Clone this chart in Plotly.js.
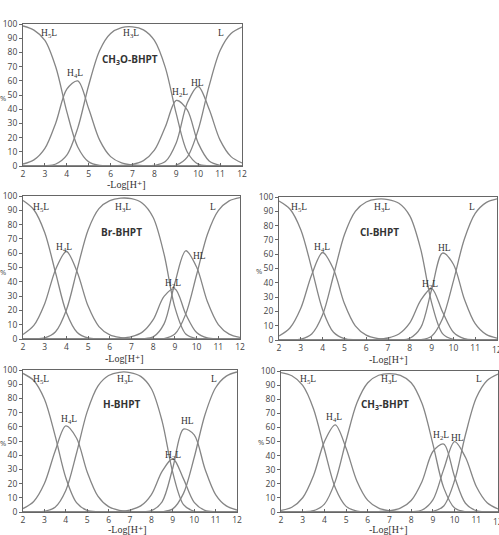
<!DOCTYPE html>
<html>
<head>
<meta charset="utf-8">
<script src="https://cdn.plot.ly/plotly-3.0.1.min.js"></script>
<style>html,body{margin:0;padding:0;background:#fff;}#chart{width:499px;height:535px;}</style>
</head>
<body>
<div id="chart"></div>
<script>
// shared -Log[H+] grid
const pH = [2,2.5,3,3.5,4,4.5,5,5.5,6,6.5,7,7.5,8,8.5,9,9.5,10,10.5,11,11.5,12];
const speciesLabels = ['H<sub>5</sub>L','H<sub>4</sub>L','H<sub>3</sub>L','H<sub>2</sub>L','HL','L'];
const panelNames = ['CH<sub>3</sub>O-BHPT','Br-BHPT','Cl-BHPT','H-BHPT','CH<sub>3</sub>-BHPT'];
const xTitle = '-Log[H\u207A]';
const yTitle = '%';

// CH3O-BHPT
const ch3o_H5L = [98.6,95.7,88.5,69.5,38.3,13.4,2.9,0.4,0.1,0,0,0,0,0,0,0,0,0,0,0,0];
const ch3o_H4L = [1.4,4.3,12.4,30.5,54.1,59.9,40.3,18.2,6.6,2.2,0.7,0.2,0.1,0,0,0,0,0,0,0,0];
const ch3o_H3L = [0,0,0.2,1.4,7.6,26.7,56.9,81.4,93.3,97.4,98.0,95.9,88.4,69.3,36.7,9.9,1.3,0.1,0,0,0];
const ch3o_H2L = [0,0,0,0,0,0,0,0,0.1,0.4,1.2,3.8,11.1,27.6,46.2,39.5,16.1,3.6,0.5,0.1,0];
const ch3o_HL  = [0,0,0,0,0,0,0,0,0,0,0,0,0.4,3.1,16.4,44.3,56.0,39.9,18.2,6.6,2.2];
const ch3o_L   = [0,0,0,0,0,0,0,0,0,0,0,0,0,0,0.7,6.3,25.5,56.4,81.3,93.3,97.8];

// Br-BHPT
const br_H5L = [96.8,90.4,74.5,46.4,18.5,4.5,0.7,0.1,0,0,0,0,0,0,0,0,0,0,0,0,0];
const br_H4L = [3.2,9.5,24.7,48.5,61.2,46.7,23.0,8.7,2.9,1.0,0.3,0.1,0,0,0,0,0,0,0,0,0];
const br_H3L = [0,0.1,0.8,5.1,20.3,48.9,76.3,91.2,96.8,98.5,98.1,95.0,85.0,59.4,22.1,3.5,0.3,0,0,0,0];
const br_H2L = [0,0,0,0,0,0,0,0,0.2,0.5,1.6,4.8,13.5,29.8,35.1,17.4,4.5,0.7,0.1,0,0];
const br_HL  = [0,0,0,0,0,0,0,0,0,0,0,0.2,1.5,10.6,39.3,61.7,50.3,26.0,10.1,3.4,1.1];
const br_L   = [0,0,0,0,0,0,0,0,0,0,0,0,0,0.3,3.5,17.4,44.9,73.3,89.8,96.6,98.9];

// Cl-BHPT
const cl_H5L = [97.2,91.6,77.1,50.1,21.2,5.4,0.9,0.1,0,0,0,0,0,0,0,0,0,0,0,0,0];
const cl_H4L = [2.8,8.4,22.2,45.7,61.2,49.5,25.5,9.9,3.4,1.1,0.4,0.1,0,0,0,0,0,0,0,0,0];
const cl_H3L = [0,0.1,0.6,4.2,17.6,45.1,73.6,90.0,96.5,98.5,98.2,95.6,86.8,63.5,26.1,4.5,0.4,0,0,0,0];
const cl_H2L = [0,0,0,0,0,0,0,0,0.1,0.4,1.4,4.2,12.0,27.7,36.0,19.7,5.4,0.9,0.1,0,0];
const cl_HL  = [0,0,0,0,0,0,0,0,0,0,0,0.1,1.2,8.6,35.2,60.8,53.0,28.7,11.4,3.9,1.3];
const cl_L   = [0,0,0,0,0,0,0,0,0,0,0,0,0,0.2,2.7,14.9,41.2,70.4,88.5,96.1,98.7];

// H-BHPT
const h_H5L = [97.6,92.6,79.5,53.8,24.1,6.6,1.1,0.1,0,0,0,0,0,0,0,0,0,0,0,0,0];
const h_H4L = [2.4,7.4,20.0,42.8,60.6,52.1,28.2,11.2,3.8,1.2,0.4,0.1,0,0,0,0,0,0,0,0,0];
const h_H3L = [0,0.1,0.5,3.4,15.2,41.4,70.7,88.7,96.1,98.4,98.2,95.5,86.8,64.0,27.7,5.2,0.5,0,0,0,0];
const h_H2L = [0,0,0,0,0,0,0,0,0.1,0.4,1.4,4.3,12.3,28.6,37.5,23.3,6.8,1.2,0.2,0,0];
const h_HL  = [0,0,0,0,0,0,0,0,0,0,0,0.1,1.0,7.2,31.0,58.4,54.3,30.5,12.3,4.3,1.4];
const h_L   = [0,0,0,0,0,0,0,0,0,0,0,0,0,0.2,2.2,13.1,38.4,68.3,87.5,95.7,98.6];

// CH3-BHPT
const ch3_H5L = [98.9,96.6,89.8,73.1,44.5,17.2,4.0,0.6,0.1,0,0,0,0,0,0,0,0,0,0,0,0];
const ch3_H4L = [1.1,3.4,10.1,25.9,49.9,61.8,45.2,21.8,8.2,2.7,0.9,0.3,0.1,0,0,0,0,0,0,0,0];
const ch3_H3L = [0,0,0.1,0.9,5.6,21.7,50.7,77.5,91.7,97.0,98.2,96.9,91.7,76.9,48.2,17.1,2.8,0.2,0,0,0];
const ch3_H2L = [0,0,0,0,0,0,0,0,0,0.3,0.9,2.7,8.2,21.7,42.9,48.2,25.0,6.2,0.9,0.1,0];
const ch3_HL  = [0,0,0,0,0,0,0,0,0,0,0,0,0.2,1.4,8.6,30.4,49.9,38.8,18.1,6.6,2.2];
const ch3_L   = [0,0,0,0,0,0,0,0,0,0,0,0,0,0,0.4,4.3,22.3,54.8,81.0,93.3,97.8];

const panelSeries = [
  [ch3o_H5L,ch3o_H4L,ch3o_H3L,ch3o_H2L,ch3o_HL,ch3o_L],
  [br_H5L,br_H4L,br_H3L,br_H2L,br_HL,br_L],
  [cl_H5L,cl_H4L,cl_H3L,cl_H2L,cl_HL,cl_L],
  [h_H5L,h_H4L,h_H3L,h_H2L,h_HL,h_L],
  [ch3_H5L,ch3_H4L,ch3_H3L,ch3_H2L,ch3_HL,ch3_L]
];

// layout (pixel boxes of each plot area, label positions, title positions)
const W = 499, H = 535;
const boxes = [
  {l:23, r:242, t:24, b:166},
  {l:23, r:240, t:196, b:339},
  {l:279, r:497, t:197, b:340},
  {l:23, r:237, t:370, b:512},
  {l:281, r:498, t:371, b:512}
];
const xTitlePx = [[127,184],[124,358],[388,359],[128,529],[388,529]];
const yTitlePx = [[3,98],[3,272],[259,271],[3,443],[261,442]];
const labelPos = [
  [[3.2,93.4],[4.37,65],[6.93,93.4],[9.17,51.6],[9.96,58.7],[11.04,93.4],[6.9,75]],
  [[2.83,92],[3.9,64],[6.63,92],[8.93,39],[10.13,58],[10.77,92],[6.55,75]],
  [[2.92,93],[3.99,64.5],[6.71,93],[8.93,39],[9.6,64],[10.85,93],[6.63,75.7]],
  [[2.84,93.4],[4.13,64.9],[6.77,93.4],[9.02,39.6],[9.67,64.2],[10.91,93.4],[6.61,76]],
  [[3.23,94],[4.42,67],[6.99,94],[9.37,54.6],[10.13,52.2],[11.13,94],[6.79,75.9]]
];

const traces = [];
const layout = {
  width:W, height:H,
  margin:{l:0,r:0,t:0,b:0},
  paper_bgcolor:'#fff', plot_bgcolor:'#fff',
  showlegend:false,
  font:{family:'Open Sans, DejaVu Sans, sans-serif', size:9, color:'#444'},
  annotations:[]
};

function paperNote(px, py, text, font) {
  return {xref:'paper', yref:'paper', x:px/W, y:1-py/H, text:text, showarrow:false,
          xanchor:'center', yanchor:'middle', font:font};
}

panelSeries.forEach((series, p) => {
  const n = p === 0 ? '' : String(p+1);
  const bx = boxes[p];
  series.forEach((ys) => {
    traces.push({
      x: pH, y: ys, type:'scatter', mode:'lines',
      xaxis:'x'+n, yaxis:'y'+n,
      line:{color:'#858585', width:1.3, shape:'spline', smoothing:0.9},
      hoverinfo:'skip'
    });
  });
  const axBase = {
    showline:true, mirror:true, linecolor:'#666', linewidth:1,
    ticklen:3, tickcolor:'#666', showgrid:false, zeroline:false,
    tickfont:{family:'Open Sans, DejaVu Sans, sans-serif', size:8.5, color:'#444'}
  };
  layout['xaxis'+n] = Object.assign({}, axBase, {
    domain:[bx.l/W, bx.r/W], range:[2,12], dtick:1, anchor:'y'+n, ticks:'inside'
  });
  layout['yaxis'+n] = Object.assign({}, axBase, {
    domain:[1-bx.b/H, 1-bx.t/H], range:[0,100], dtick:10, anchor:'x'+n, ticks:'outside'
  });
  const lp = labelPos[p];
  speciesLabels.forEach((t, i) => {
    layout.annotations.push({
      xref:'x'+n, yref:'y'+n, x:lp[i][0], y:lp[i][1], text:t, showarrow:false,
      xanchor:'center', yanchor:'middle',
      font:{family:'Liberation Serif, serif', size:9.5, color:'#333'}
    });
  });
  layout.annotations.push({
    xref:'x'+n, yref:'y'+n, x:lp[6][0], y:lp[6][1], text:'<b>'+panelNames[p]+'</b>', showarrow:false,
    xanchor:'center', yanchor:'middle',
    font:{family:'Open Sans, DejaVu Sans, sans-serif', size:10, color:'#333'}
  });
  layout.annotations.push(paperNote(xTitlePx[p][0], xTitlePx[p][1], xTitle,
    {family:'Liberation Serif, DejaVu Serif, serif', size:10, color:'#333'}));
  layout.annotations.push(paperNote(yTitlePx[p][0], yTitlePx[p][1], yTitle,
    {family:'Open Sans, DejaVu Sans, sans-serif', size:7.5, color:'#444'}));
  // right panels: last tick label sits on the page edge
  if (bx.r > 490) {
    layout.annotations.push(paperNote(bx.r, bx.b + 9, '12',
      {family:'Open Sans, DejaVu Sans, sans-serif', size:8.5, color:'#444'}));
  }
});

Plotly.newPlot('chart', traces, layout, {staticPlot:true, displayModeBar:false});
</script>
</body>
</html>
